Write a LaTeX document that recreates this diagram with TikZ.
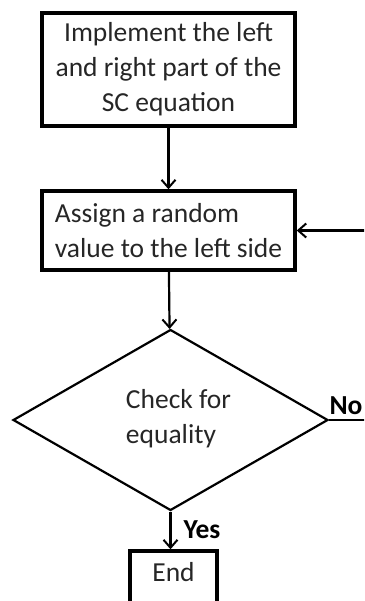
\documentclass[tikz,border=0pt]{standalone}
\usepackage{fontspec}
\setmainfont{Carlito}
\usetikzlibrary{shapes.geometric,arrows.meta}

\begin{document}
\begin{tikzpicture}[x=1pt, y=1pt,
  txt/.style={font=\fontsize{27.5}{35}\selectfont, text=black!85},
  stepbox/.style={txt, draw=black, line width=3.4pt, shape=rectangle, inner sep=0pt},
  decision/.style={draw=black, line width=2.2pt, shape=diamond, inner sep=0pt},
  flow/.style={line width=2.2pt, -{Straight Barb[length=8pt, width=14pt, line width=2pt]}},
  answer/.style={font=\fontsize{27.5}{35}\selectfont\bfseries}]

\useasboundingbox (0, 0) rectangle (364, -601);
\clip (0, 0) rectangle (364, -601);

\path (168.5, -69.5) node[stepbox, minimum width=253pt, minimum height=113pt, align=center] (implement) {Implement the left\\and right part of the\\SC equation};
\path (168.5, -230.5) node[stepbox, minimum width=253pt, minimum height=79pt, align=left] (assign) {Assign a random\\value to the left side};
\path (170.5, -420) node[decision, minimum width=315pt, minimum height=181pt, aspect=1.74,
  label={[txt, align=left, xshift=8pt, yshift=1pt]center:Check for\\equality}] (check) {};
\path (173.5, -581) node[stepbox, minimum width=87pt, minimum height=60pt, text depth=18pt] (stop) {End};

\coordinate (loop) at (385, -420);

\draw[flow] (implement) -- (assign);
\draw[flow] (assign) -- (check);
\draw[flow] (check.south) -- (check.south |- stop.north);
\draw[flow] (check.east) -- (loop) |- (assign.east);

\path (346, -406) node[answer] (no) {No};
\path (202, -530) node[answer] (yes) {Yes};
\end{tikzpicture}
\end{document}
